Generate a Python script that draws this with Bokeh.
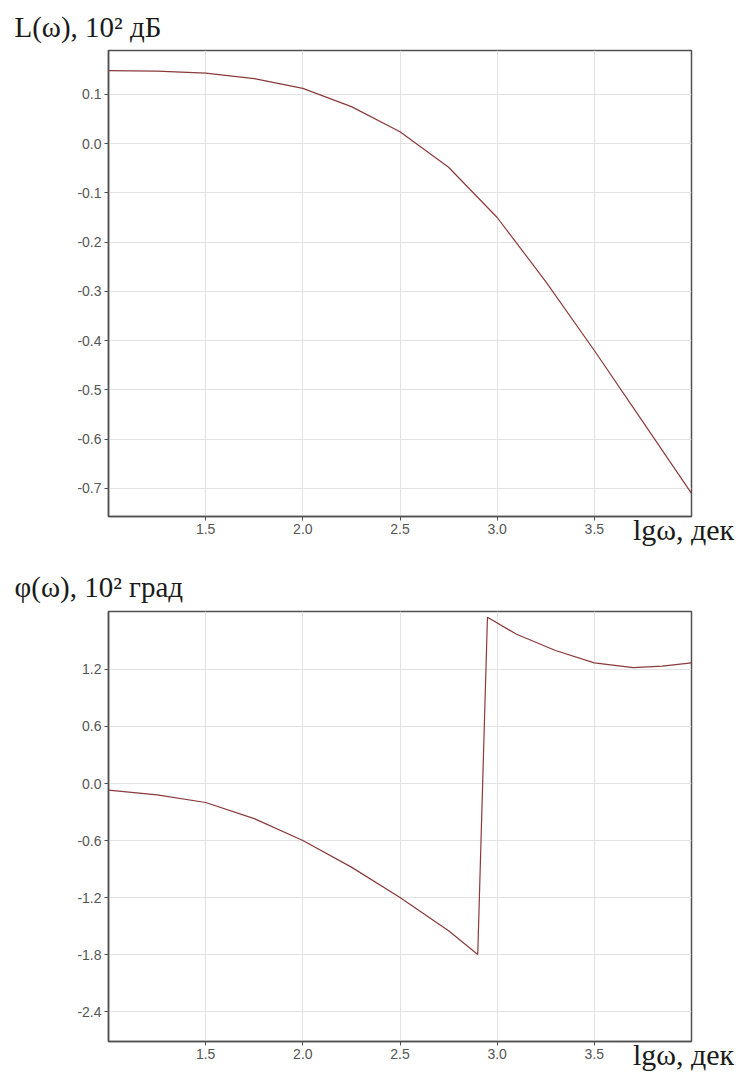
from bokeh.plotting import figure
from bokeh.layouts import column
from bokeh.models import FixedTicker, PrintfTickFormatter, Range1d, Title, LinearAxis
from bokeh.embed import file_html
from bokeh.resources import INLINE

# ---- data ----
lg_w_amp = [1.0, 1.25, 1.5, 1.75, 2.0, 2.25, 2.5, 2.75, 3.0, 3.25, 3.5, 3.75, 4.0]
L_amp = [0.148, 0.147, 0.143, 0.132, 0.112, 0.075, 0.024, -0.048, -0.150, -0.280, -0.420, -0.565, -0.710]

lg_w_ph = [1.0, 1.25, 1.5, 1.75, 2.0, 2.25, 2.5, 2.75, 2.9, 2.95, 3.1, 3.3, 3.5, 3.7, 3.85, 4.0]
phi_ph = [-0.07, -0.12, -0.20, -0.37, -0.60, -0.88, -1.20, -1.55, -1.80, 1.75, 1.57, 1.40, 1.27, 1.22, 1.235, 1.27]

x_ticks = [1.5, 2.0, 2.5, 3.0, 3.5]
amp_ticks = [0.1, 0.0, -0.1, -0.2, -0.3, -0.4, -0.5, -0.6, -0.7]
ph_ticks = [1.2, 0.6, 0.0, -0.6, -1.2, -1.8, -2.4]

title_amp = "L(ω), 10² дБ"
title_ph = "φ(ω), 10² град"
x_label = "lgω, дек"
x_label_pos = 3.959   # horizontal centre of the axis caption, in lgω units

LINE = "#8b3a3a"
FRAME = "#505050"
SERIF = "Liberation Serif"
SANS = "Liberation Sans"


def make_fig(height, border_top, border_bottom, yrange, yticks, xs, ys, title, title_standoff):
    p = figure(width=739, height=height, output_backend="svg", toolbar_location=None,
               x_range=Range1d(1.0, 4.0), y_range=Range1d(*yrange),
               min_border_left=108, min_border_right=48,
               min_border_top=border_top, min_border_bottom=border_bottom,
               background_fill_color="white", border_fill_color="white")
    p.line(xs, ys, line_color=LINE, line_width=1.2)
    p.xaxis.ticker = FixedTicker(ticks=x_ticks)
    p.yaxis.ticker = FixedTicker(ticks=yticks)
    p.xaxis.formatter = PrintfTickFormatter(format="%.1f")
    p.yaxis.formatter = PrintfTickFormatter(format="%.1f")
    for ax in (p.xaxis, p.yaxis):
        ax.axis_line_color = FRAME
        ax.axis_line_width = 1.5
        ax.major_tick_line_color = FRAME
        ax.major_tick_out = 4
        ax.major_tick_in = 0
        ax.minor_tick_out = 0
        ax.minor_tick_in = 0
        ax.major_label_text_font = SANS
        ax.major_label_text_font_size = "14px"
        ax.major_label_text_color = "#555555"
        ax.major_label_standoff = 3
    p.grid.grid_line_color = "#e2e2e2"
    p.grid.grid_line_width = 1
    p.outline_line_color = FRAME
    p.outline_line_width = 1.5

    # panel title at the top-left
    p.add_layout(Title(text=title, align="left", offset=-94, standoff=title_standoff,
                       text_font=SERIF, text_font_size="29px",
                       text_font_style="normal", text_color="#1a1a1a"), "above")

    # axis caption "lgω, дек": an extra x axis stacked below, its label pulled up
    cap = LinearAxis(ticker=FixedTicker(ticks=[x_label_pos]),
                     major_label_overrides={x_label_pos: x_label})
    cap.axis_line_color = None
    cap.major_tick_line_color = None
    cap.minor_tick_line_color = None
    cap.major_tick_out = 0
    cap.major_tick_in = 0
    cap.major_label_standoff = -24
    cap.major_label_text_font = SERIF
    cap.major_label_text_font_size = "30px"
    cap.major_label_text_color = "#1a1a1a"
    p.add_layout(cap, "below")
    return p


p1 = make_fig(560, 49, 44, (-0.757, 0.189), amp_ticks, lg_w_amp, L_amp, title_amp, 16)
p2 = make_fig(516, 49, 35, (-2.715, 1.81), ph_ticks, lg_w_ph, phi_ph, title_ph, 17)

layout = column(p1, p2, spacing=0)
open("out.html", "w").write(file_html(layout, INLINE))
